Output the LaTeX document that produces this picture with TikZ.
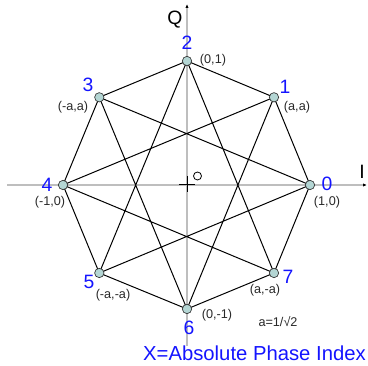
\documentclass[tikz,border=0pt]{standalone}
\usepackage{fontspec}
\setmainfont{Liberation Sans}
\usetikzlibrary{arrows.meta}
\definecolor{axisgray}{RGB}{190,190,190}
\definecolor{ptfill}{RGB}{180,214,212}
\definecolor{lblue}{RGB}{20,20,255}
\definecolor{lgray}{RGB}{40,40,40}
\begin{document}
\begin{tikzpicture}[x=0.75pt,y=-0.75pt,
  axisline/.style={draw=axisgray,line width=0.8pt},
  edge/.style={draw=black,line width=0.75pt},
  pt/.style={circle,draw=black!80,fill=ptfill,line width=0.5pt,inner sep=0pt,minimum size=7pt},
  idx/.style={text=lblue,font=\fontsize{14.5}{16}\selectfont,inner sep=0pt},
  crd/.style={text=lgray,font=\fontsize{9.5}{11}\selectfont,inner sep=0pt},
  axlbl/.style={text=black,font=\fontsize{14.5}{16}\selectfont,inner sep=0pt}]
\useasboundingbox (0,0) rectangle (368,366);
% axes
\coordinate (xl) at (7,185);
\coordinate (xr) at (367,185);
\coordinate (yt) at (187,4);
\coordinate (yb) at (187,346);
\draw[axisline,-{Latex[length=3pt,width=2.5pt,color=black]}] (xl) -- (xr);
\draw[axisline,-{Latex[length=3pt,width=2.5pt,color=black]}] (yb) -- (yt);
% points
\coordinate (p0) at (310.0,185.0);
\coordinate (p1) at (274.0,97.3);
\coordinate (p2) at (187.0,61.0);
\coordinate (p3) at (99.3,97.3);
\coordinate (p4) at (63.0,185.0);
\coordinate (p5) at (99.3,273.0);
\coordinate (p6) at (187.0,309.0);
\coordinate (p7) at (274.0,273.0);
% octagon
\draw[edge] (p0) -- (p1) -- (p2) -- (p3) -- (p4) -- (p5) -- (p6) -- (p7) -- cycle;
% star {8/3}
\draw[edge] (p0) -- (p3) -- (p6) -- (p1) -- (p4) -- (p7) -- (p2) -- (p5) -- cycle;
% markers
\foreach \i in {0,...,7} \node[pt] (m\i) at (p\i) {};
% center mark
\coordinate (cl) at (179,184);
\coordinate (cr) at (195,184);
\coordinate (ct) at (187,176);
\coordinate (cb) at (187,192);
\draw[line width=0.7pt] (cl) -- (cr) (ct) -- (cb);
\node[circle,draw=black,line width=0.6pt,inner sep=0pt,minimum size=6pt] (orig) at (197.5,176) {};
% index labels
\node[idx] (n0) at (327,184) {0};
\node[idx] (n1) at (285,87) {1};
\node[idx] (n2) at (187,43) {2};
\node[idx] (n3) at (88,85) {3};
\node[idx] (n4) at (47,185) {4};
\node[idx] (n5) at (89,282) {5};
\node[idx] (n6) at (189,328) {6};
\node[idx] (n7) at (288,277) {7};
% coordinate labels
\node[crd] (c0) at (327,202) {(1,0)};
\node[crd] (c1) at (297,107) {(a,a)};
\node[crd] (c2) at (213,60) {(0,1)};
\node[crd] (c3) at (73,107) {(-a,a)};
\node[crd] (c4) at (50,202) {(-1,0)};
\node[crd] (c5) at (113,295) {(-a,-a)};
\node[crd] (c6) at (217,315) {(0,-1)};
\node[crd] (c7) at (265,290) {(a,-a)};
\node[crd] (aeq) at (278,322) {a=1/√2};
% axis labels
\node[axlbl] (lq) at (175,20) {Q};
\node[axlbl] (li) at (362,172) {I};
\node[text=lblue,font=\fontsize{15.2}{17}\selectfont,inner sep=0pt,anchor=east] (leg) at (366,353) {X=Absolute Phase Index};
\end{tikzpicture}
\end{document}
